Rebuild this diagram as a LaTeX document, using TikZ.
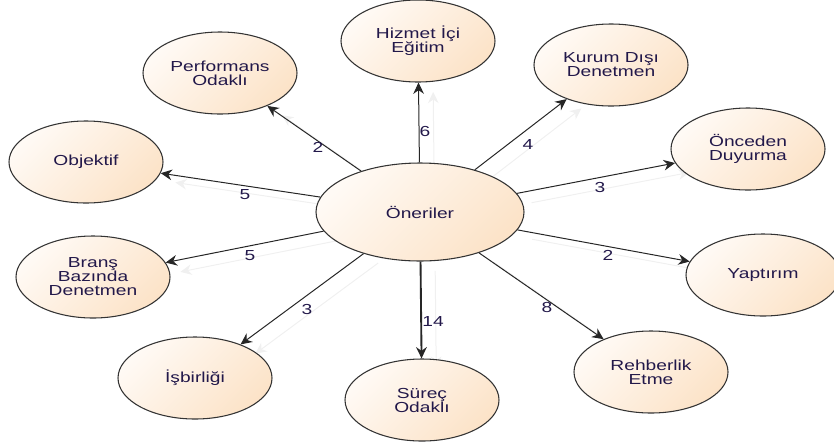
\documentclass[tikz,border=0pt]{standalone}
\usepackage{fontspec}
\setmainfont{Liberation Sans}[FakeStretch=1.32]
\usepackage{tikz}
\usetikzlibrary{shapes.geometric}
\usetikzlibrary{arrows.meta}
\usetikzlibrary{backgrounds}
\usepackage{xcolor}
\definecolor{nodetop}{HTML}{FFFAF5}
\definecolor{nodebot}{HTML}{FCE3C8}
\definecolor{nodeline}{HTML}{333333}
\definecolor{txtcol}{HTML}{22184A}

\begin{document}
\begin{tikzpicture}[x=0.75pt,y=-0.75pt,>={Stealth[length=8.5pt,width=8pt]},
        main node/.style={ellipse,draw=nodeline,line width=0.8pt,top color=nodetop,bottom color=nodebot,
            shading angle=45,minimum width=115.5pt,minimum height=61.5pt,inner sep=0pt,align=center,
            text=txtcol,font=\fontsize{10.9}{10.5}\selectfont},
        big node/.style={main node,minimum width=156pt,minimum height=73.5pt},
        num/.style={text=txtcol,inner sep=0pt,font=\fontsize{10.9}{10.5}\selectfont},
        link/.style={->,draw=black!85,line width=0.75pt},
        heavy link/.style={link,line width=1.4pt},
        ghost/.style={->,draw=black!6,line width=0.75pt,transform canvas={shift={(11pt,-7pt)}}}]

    \useasboundingbox (0,0) rectangle (834,447);

    % Nodes
    \node[big node] (ONE) at (420, 212) {Öneriler};

    \node[main node] (HIZ) at (418, 41) {Hizmet İçi\\Eğitim};
    \node[main node] (KUR) at (611, 65) {Kurum Dışı\\Denetmen};
    \node[main node] (ONC) at (748, 149) {Önceden\\Duyurma};
    \node[main node] (YAP) at (763, 275) {Yaptırım};
    \node[main node] (REH) at (651, 372) {Rehberlik\\Etme};
    \node[main node] (SUR) at (422, 400) {Süreç\\Odaklı};
    \node[main node] (ISB) at (195, 378) {İşbirliği};
    \node[main node] (BRA) at (93, 277) {Branş\\Bazında\\Denetmen};
    \node[main node] (OBJ) at (86, 162) {Objektif};
    \node[main node] (PER) at (220, 73) {Performans\\Odaklı};

    % Faint copies behind the arrows
    \begin{scope}[on background layer]
        \foreach \t in {HIZ,KUR,ONC,YAP,REH,SUR,ISB,BRA,OBJ,PER}
            \draw[ghost] (ONE) -- (\t);
    \end{scope}

    % Edges
    \draw[link] (ONE) -- (PER);
    \draw[link] (ONE) -- (HIZ);
    \draw[link] (ONE) -- (KUR);
    \draw[link] (ONE) -- (ONC);
    \draw[link] (ONE) -- (OBJ);
    \draw[link] (ONE) -- (BRA);
    \draw[link] (ONE) -- (YAP);
    \draw[link] (ONE) -- (ISB);
    \draw[heavy link] (ONE) -- (SUR);
    \draw[link] (ONE) -- (REH);

    % Counts
    \node[num] (wPER) at (318, 147) {2};
    \node[num] (wHIZ) at (425, 131) {6};
    \node[num] (wKUR) at (528, 144) {4};
    \node[num] (wONC) at (600, 187) {3};
    \node[num] (wOBJ) at (245, 195) {5};
    \node[num] (wBRA) at (250, 256) {5};
    \node[num] (wYAP) at (608, 255) {2};
    \node[num] (wISB) at (307, 309) {3};
    \node[num] (wSUR) at (433, 321) {14};
    \node[num] (wREH) at (547, 307) {8};
\end{tikzpicture}
\end{document}
